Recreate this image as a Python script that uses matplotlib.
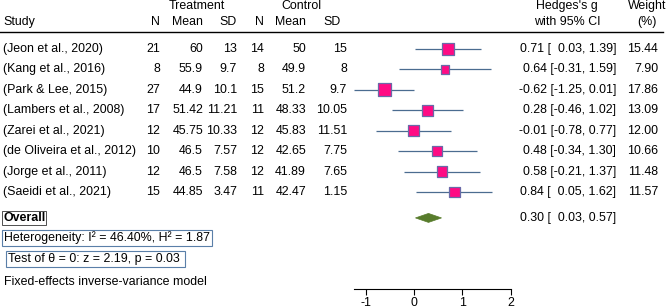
import numpy as np
import matplotlib
matplotlib.use('Agg')
import matplotlib.pyplot as plt
import matplotlib.transforms as mtrans
from matplotlib.patches import Polygon

plt.rcParams['font.family'] = ['Liberation Sans', 'DejaVu Sans']

# data
studies = ['(Jeon et al., 2020)', '(Kang et al., 2016)', '(Park & Lee, 2015)',
           '(Lambers et al., 2008)', '(Zarei et al., 2021)',
           '(de Oliveira et al., 2012)', '(Jorge et al., 2011)', '(Saeidi et al., 2021)']
t_n = [21, 8, 27, 17, 12, 10, 12, 15]
t_mean = ['60', '55.9', '44.9', '51.42', '45.75', '46.5', '46.5', '44.85']
t_sd = ['13', '9.7', '10.1', '11.21', '10.33', '7.57', '7.58', '3.47']
c_n = [14, 8, 15, 11, 12, 12, 12, 11]
c_mean = ['50', '49.9', '51.2', '48.33', '45.83', '42.65', '41.89', '42.47']
c_sd = ['15', '8', '9.7', '10.05', '11.51', '7.75', '7.65', '1.15']
g = [0.71, 0.64, -0.62, 0.28, -0.01, 0.48, 0.58, 0.84]
lo = [0.03, -0.31, -1.25, -0.46, -0.78, -0.34, -0.21, 0.05]
hi = [1.39, 1.59, 0.01, 1.02, 0.77, 1.30, 1.37, 1.62]
weight = [15.44, 7.90, 17.86, 13.09, 12.00, 10.66, 11.48, 11.57]
overall = (0.30, 0.03, 0.57)
xticks = [-1, 0, 1, 2]

fig = plt.figure(figsize=(6.69, 3.08), dpi=100)
ax = fig.add_axes([0, 19/308, 1, 289/308])
ax.set_xlim(-414/48.3, (669-414)/48.3)
ax.set_ylim(11.75, -2.4)

fs = 8.9
tr = mtrans.blended_transform_factory(ax.transAxes, ax.transData)
def col(xpx):
    return xpx / 669.0

def ci_text(e, l, h):
    return '%.2f [' % e + ('%.2f' % l).rjust(5).replace(' ', '  ') + ', ' + '%.2f]' % h

# headers
ax.text(col(197), -2.1, 'Treatment', transform=tr, ha='center', va='center', fontsize=fs)
ax.text(col(301), -2.1, 'Control', transform=tr, ha='center', va='center', fontsize=fs)
ax.text(col(567), -2.1, "Hedges's g", transform=tr, ha='center', va='center', fontsize=fs)
ax.text(col(647), -2.1, 'Weight', transform=tr, ha='center', va='center', fontsize=fs)
ax.text(col(3), -1.3, 'Study', transform=tr, ha='left', va='center', fontsize=fs)
for xp, lab in [(160, 'N'), (203, 'Mean'), (237, 'SD'), (264, 'N'), (306, 'Mean'), (341, 'SD')]:
    ax.text(col(xp), -1.3, lab, transform=tr, ha='right', va='center', fontsize=fs)
ax.text(col(567), -1.3, 'with 95% CI', transform=tr, ha='center', va='center', fontsize=fs)
ax.text(col(647), -1.3, '(%)', transform=tr, ha='center', va='center', fontsize=fs)
ax.plot([0, col(663)], [-0.83, -0.83], transform=tr, color='black', lw=1.0, clip_on=False)

rows = np.arange(len(studies))
for i in rows:
    ax.text(col(3), i, studies[i], transform=tr, ha='left', va='center', fontsize=fs)
    vals = [str(t_n[i]), t_mean[i], t_sd[i], str(c_n[i]), c_mean[i], c_sd[i]]
    for xp, v in zip([160, 203, 237, 264, 306, 347], vals):
        ax.text(col(xp), i, v, transform=tr, ha='right', va='center', fontsize=fs)
    ax.text(col(616), i, ci_text(g[i], lo[i], hi[i]), transform=tr, ha='right', va='center', fontsize=fs)
    ax.text(col(658), i, '%.2f' % weight[i], transform=tr, ha='right', va='center', fontsize=fs)

# CI lines and boxes
ax.hlines(rows, lo, hi, color='#4b6c90', lw=0.9, zorder=2)
ax.scatter(g, rows, s=np.array(weight) * 4.92, marker='s', facecolor='#ff0a84',
           edgecolor='#6a6aa8', linewidth=0.9, zorder=3)

# overall
yo = 8.27
est, olo, ohi = overall
dia = Polygon([[olo, yo], [est, yo - 0.22], [ohi, yo], [est, yo + 0.22]],
              closed=True, facecolor='#587c2c', edgecolor='#587c2c', lw=0.5, zorder=3)
ax.add_patch(dia)
ax.text(col(3), yo, 'Overall', transform=tr, ha='left', va='center', fontsize=fs,
        fontweight='bold', bbox=dict(boxstyle='square,pad=0.1', fc='none', ec='#333333', lw=0.6))
ax.text(col(616), yo, ci_text(est, olo, ohi), transform=tr, ha='right', va='center', fontsize=fs)

ax.text(col(4), 9.25, 'Heterogeneity: I\u00b2 = 46.40%, H\u00b2 = 1.87', transform=tr,
        ha='left', va='center', fontsize=fs,
        bbox=dict(boxstyle='square,pad=0.15', fc='none', ec='#5a7fa8', lw=0.8))
ax.text(col(8), 10.28, 'Test of \u03b8 = 0: z = 2.19, p = 0.03 ', transform=tr,
        ha='left', va='center', fontsize=fs,
        bbox=dict(boxstyle='square,pad=0.15', fc='none', ec='#5a7fa8', lw=0.8))
ax.text(col(4), 11.4, 'Fixed-effects inverse-variance model', transform=tr,
        ha='left', va='center', fontsize=fs)

# axis
for s in ['top', 'right', 'left']:
    ax.spines[s].set_visible(False)
ax.spines['bottom'].set_bounds(-1.25, 2)
ax.spines['bottom'].set_linewidth(0.8)
ax.set_yticks([])
ax.set_xticks(xticks)
ax.set_xticklabels([str(t) for t in xticks])
ax.tick_params(axis='x', labelsize=fs, length=4, width=0.8, pad=2)
ax.patch.set_alpha(0)

fig.savefig('out.png', dpi=100)
